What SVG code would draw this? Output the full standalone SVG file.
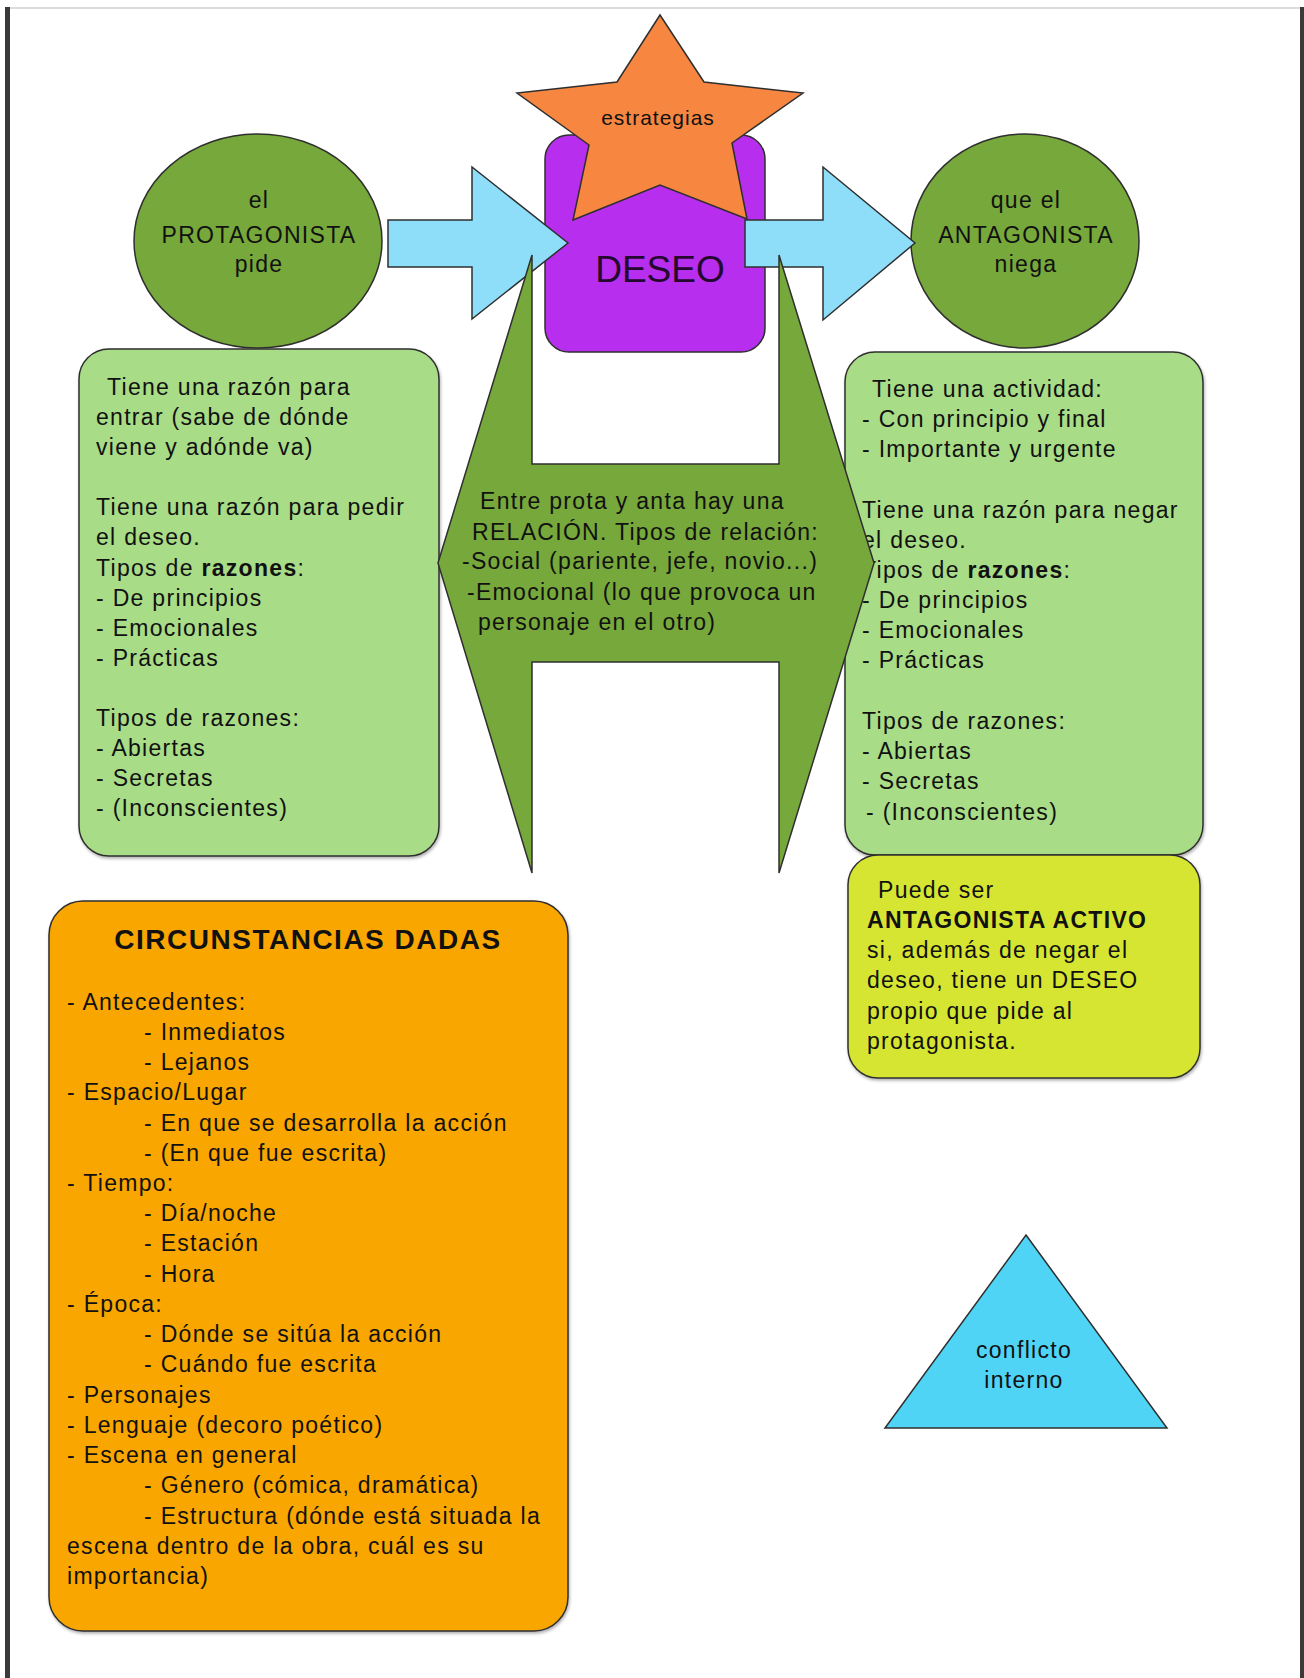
<svg xmlns="http://www.w3.org/2000/svg" width="1304" height="1678" viewBox="0 0 1304 1678">
<defs>
<style>
.t{font-family:"Liberation Sans",Arial,sans-serif;font-size:23px;fill:#111111;letter-spacing:1.3px}
.c{text-anchor:middle}
.b{font-weight:bold}
.shape{stroke:#2f2f2f;stroke-width:1.5}
.dg{fill:#77a83b}
.lg{fill:#a9dc86}
.blue{fill:#8fdef9}
</style>
<filter id="sh" x="-5%" y="-5%" width="110%" height="110%">
<feDropShadow dx="1" dy="2" stdDeviation="1.5" flood-color="#000" flood-opacity="0.3"/>
</filter>
</defs>
<rect x="0" y="0" width="1304" height="1678" fill="#ffffff"/>
<g id="frame">
<rect x="10" y="7" width="1290" height="2" fill="#dcdcdc"/>
<rect x="5" y="7" width="5" height="1671" fill="#3a3a3a"/>
<rect x="1300" y="7" width="4" height="1671" fill="#3a3a3a"/>
</g>

<g id="box-protagonista">
<rect class="shape lg" x="79" y="349" width="360" height="507" rx="30" filter="url(#sh)"/>
<text class="t" x="107" y="395">Tiene una razón para</text>
<text class="t" x="96" y="425">entrar (sabe de dónde</text>
<text class="t" x="96" y="455">viene y adónde va)</text>
<text class="t" x="96" y="515">Tiene una razón para pedir</text>
<text class="t" x="96" y="545">el deseo.</text>
<text class="t" x="96" y="576">Tipos de <tspan class="b">razones</tspan>:</text>
<text class="t" x="96" y="606">- De principios</text>
<text class="t" x="96" y="636">- Emocionales</text>
<text class="t" x="96" y="666">- Prácticas</text>
<text class="t" x="96" y="726">Tipos de razones:</text>
<text class="t" x="96" y="756">- Abiertas</text>
<text class="t" x="96" y="786">- Secretas</text>
<text class="t" x="96" y="816">- (Inconscientes)</text>
</g>

<g id="box-antagonista">
<rect class="shape lg" x="845" y="352" width="358" height="503" rx="30" filter="url(#sh)"/>
<text class="t" x="872" y="397">Tiene una actividad:</text>
<text class="t" x="862" y="427">- Con principio y final</text>
<text class="t" x="862" y="457">- Importante y urgente</text>
<text class="t" x="862" y="518">Tiene una razón para negar</text>
<text class="t" x="862" y="548">el deseo.</text>
<text class="t" x="862" y="578">Tipos de <tspan class="b">razones</tspan>:</text>
<text class="t" x="862" y="608">- De principios</text>
<text class="t" x="862" y="638">- Emocionales</text>
<text class="t" x="862" y="668">- Prácticas</text>
<text class="t" x="862" y="729">Tipos de razones:</text>
<text class="t" x="862" y="759">- Abiertas</text>
<text class="t" x="862" y="789">- Secretas</text>
<text class="t" x="866" y="820">- (Inconscientes)</text>
</g>

<g id="protagonista">
<ellipse class="shape dg" cx="258" cy="241" rx="124" ry="107"/>
<text class="t c" x="259" y="208">el</text>
<text class="t c" x="259" y="243">PROTAGONISTA</text>
<text class="t c" x="259" y="272">pide</text>
</g>

<g id="antagonista">
<ellipse class="shape dg" cx="1025" cy="241" rx="114" ry="107"/>
<text class="t c" x="1026" y="208">que el</text>
<text class="t c" x="1026" y="243">ANTAGONISTA</text>
<text class="t c" x="1026" y="272">niega</text>
</g>

<g id="deseo">
<rect class="shape" x="545" y="135" width="220" height="217" rx="24" fill="#b82eee"/>
<text x="660" y="282" text-anchor="middle" font-family="Liberation Sans, Arial, sans-serif" font-size="37" fill="#24082f">DESEO</text>
</g>

<g id="estrategias">
<polygon class="shape" fill="#f78641" points="660,15 704,82 803,93 732,143 747,219 660,185 573,220 589,145 517,93 617,82"/>
<text class="t c" x="658" y="125" style="font-size:21px;letter-spacing:1px">estrategias</text>
</g>

<g id="connectors">
<polygon class="shape blue" points="388,220 472,220 472,167 568,243 472,319 472,267 388,267"/>
<polygon class="shape blue" points="745,220 823,220 823,167 915,243 823,320 823,267 745,267"/>
</g>

<g id="relacion">
<polygon class="shape dg" points="532,255 532,464 779,464 779,255 874,563 779,873 779,662 532,662 532,873 438,563"/>
<text class="t" x="480" y="509">Entre prota y anta hay una</text>
<text class="t" x="472" y="540">RELACIÓN. Tipos de relación:</text>
<text class="t" x="462" y="569">-Social (pariente, jefe, novio...)</text>
<text class="t" x="467" y="600">-Emocional (lo que provoca un</text>
<text class="t" x="478" y="630">personaje en el otro)</text>
</g>

<g id="antagonista-activo">
<rect class="shape" x="848" y="855" width="352" height="223" rx="30" fill="#d6e532" filter="url(#sh)"/>
<text class="t" x="878" y="898">Puede ser</text>
<text class="t b" x="867" y="928">ANTAGONISTA ACTIVO</text>
<text class="t" x="867" y="958">si, además de negar el</text>
<text class="t" x="867" y="988">deseo, tiene un DESEO</text>
<text class="t" x="867" y="1019">propio que pide al</text>
<text class="t" x="867" y="1049">protagonista.</text>
</g>

<g id="circunstancias">
<rect class="shape" x="49" y="901" width="519" height="730" rx="34" fill="#f9a600" filter="url(#sh)"/>
<text class="t b c" x="308" y="949" style="font-size:28px;letter-spacing:1.5px">CIRCUNSTANCIAS DADAS</text>
<text class="t" x="67" y="1010">- Antecedentes:</text>
<text class="t" x="144" y="1040">- Inmediatos</text>
<text class="t" x="144" y="1070">- Lejanos</text>
<text class="t" x="67" y="1100">- Espacio/Lugar</text>
<text class="t" x="144" y="1131">- En que se desarrolla la acción</text>
<text class="t" x="144" y="1161">- (En que fue escrita)</text>
<text class="t" x="67" y="1191">- Tiempo:</text>
<text class="t" x="144" y="1221">- Día/noche</text>
<text class="t" x="144" y="1251">- Estación</text>
<text class="t" x="144" y="1282">- Hora</text>
<text class="t" x="67" y="1312">- Época:</text>
<text class="t" x="144" y="1342">- Dónde se sitúa la acción</text>
<text class="t" x="144" y="1372">- Cuándo fue escrita</text>
<text class="t" x="67" y="1403">- Personajes</text>
<text class="t" x="67" y="1433">- Lenguaje (decoro poético)</text>
<text class="t" x="67" y="1463">- Escena en general</text>
<text class="t" x="144" y="1493">- Género (cómica, dramática)</text>
<text class="t" x="144" y="1524">- Estructura (dónde está situada la</text>
<text class="t" x="67" y="1554">escena dentro de la obra, cuál es su</text>
<text class="t" x="67" y="1584">importancia)</text>
</g>

<g id="conflicto-interno">
<polygon class="shape" fill="#50d4f6" points="1026,1235 1167,1428 885,1428"/>
<text class="t c" x="1024" y="1358">conflicto</text>
<text class="t c" x="1024" y="1388">interno</text>
</g>
</svg>
